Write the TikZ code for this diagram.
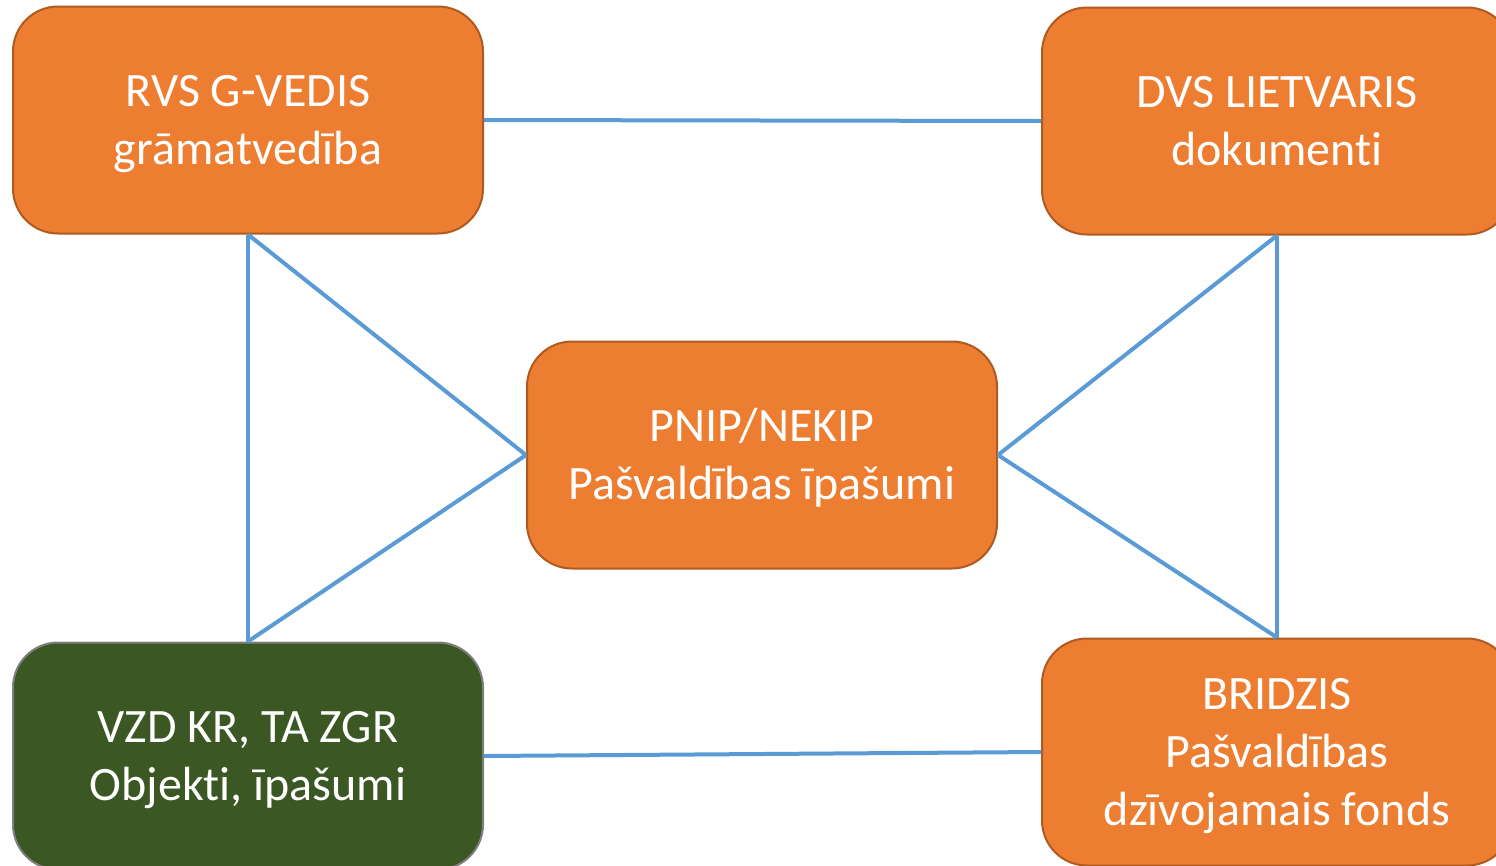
\documentclass[tikz,border=0pt]{standalone}
\usepackage{fontspec}
\setmainfont[Ligatures=NoCommon]{Carlito}
\definecolor{boxorange}{HTML}{ED7D31}
\definecolor{boxorangeline}{HTML}{AE5A21}
\definecolor{boxgreen}{HTML}{3A5724}
\definecolor{boxgrey}{HTML}{7F7F7F}
\definecolor{linkblue}{HTML}{5B9BD5}
\newcommand\toppad{\rule{0pt}{45pt}}
\newcommand\botpad{\rule[-14pt]{0pt}{14pt}}
\tikzset{
  sysbox/.style={draw=boxorangeline, fill=boxorange, line width=2pt, rounded corners=45pt,
    minimum width=470pt, minimum height=227pt, align=center, text=white,
    font=\fontsize{48}{58}\selectfont, inner sep=0pt},
  greenbox/.style={sysbox, draw=boxgrey, fill=boxgreen},
  link/.style={draw=linkblue, line width=4pt}
}
\begin{document}
\begin{tikzpicture}[x=1pt,y=-1pt]
\useasboundingbox (0,0) rectangle (1496,865);
\node[sysbox] (rvs) at (248,120) {\toppad RVS G-VEDIS\\grāmatvedība\botpad};
\node[sysbox] (dvs) at (1277,121) {\toppad DVS LIETVARIS\\dokumenti\botpad};
\node[sysbox] (pnip) at (762,455) {\toppad PNIP/NEKIP\\Pašvaldības īpašumi\botpad};
\node[greenbox] (vzd) at (248,756) {\toppad VZD KR, TA ZGR\\Objekti, īpašumi\botpad};
\node[sysbox] (bri) at (1277,752) {\toppad BRIDZIS\\Pašvaldības\\dzīvojamais fonds\botpad};
\draw[link] (rvs.east) -- (dvs.west);
\draw[link] (rvs.south) -- (vzd.north);
\draw[link] (rvs.south) -- (pnip.west);
\draw[link] (pnip.west) -- (vzd.north);
\draw[link] (dvs.south) -- (pnip.east);
\draw[link] (dvs.south) -- (bri.north);
\draw[link] (pnip.east) -- (bri.north);
\draw[link] (vzd.east) -- (bri.west);
\end{tikzpicture}
\end{document}
